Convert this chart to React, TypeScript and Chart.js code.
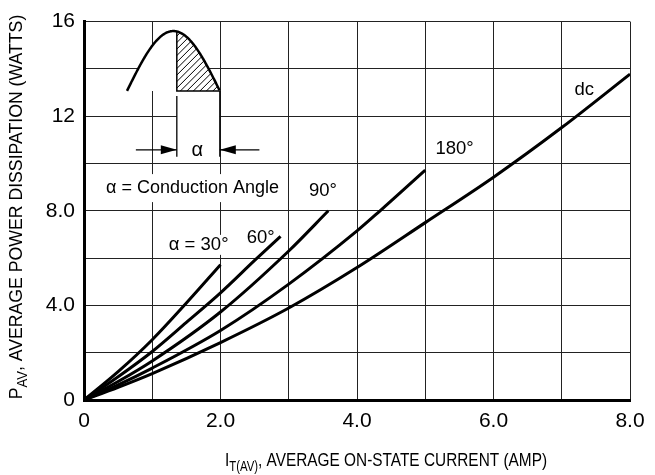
import { useEffect, useRef } from "react";
import { Chart, registerables } from "chart.js";

Chart.register(...registerables);

// ---- axes ----
const xGridValues = [0, 1, 2, 3, 4, 5, 6, 7, 8];
const xTickLabels = ["0", "", "2.0", "", "4.0", "", "6.0", "", "8.0"];
const yGridValues = [0, 2, 4, 6, 8, 10, 12, 14, 16];
const yTickLabels = ["0", "", "4.0", "", "8.0", "", "12", "", "16"];

// ---- curves (I_T(AV) amps, P_AV watts) ----
const x30 = [0, 0.5, 1, 1.5, 2.0];
const y30 = [0, 1.2, 2.55, 4.1, 5.72];
const x60 = [0, 0.5, 1, 1.5, 2, 2.5, 2.88];
const y60 = [0, 0.98, 2.05, 3.28, 4.53, 5.9, 6.92];
const x90 = [0, 0.5, 1, 2, 3, 3.58];
const y90 = [0, 0.78, 1.65, 3.72, 6.3, 8.0];
const x180 = [0, 0.5, 1, 2, 3, 4, 4.33, 5];
const y180 = [0, 0.64, 1.35, 2.94, 4.9, 7.15, 7.98, 9.72];
const xDc = [0, 0.5, 1, 2, 3, 4, 5, 6, 7, 8];
const yDc = [0, 0.54, 1.12, 2.43, 3.89, 5.6, 7.5, 9.42, 11.52, 13.78];

// ---- curve labels ----
const curveLabels = ["α = 30°", "60°", "90°", "180°", "dc"];
const curveLabelX = [1.68, 2.59, 3.5, 5.43, 7.33];
const curveLabelY = [6.56, 6.875, 8.83, 10.63, 13.1];

// ---- inset (conduction-angle sketch), in data units ----
const arcStart = 0.63;
const arcEnd = 1.99;
const arcBase = 13.07;
const arcTop = 15.6;
const hatchStart = 1.36;
const extBottom = 10.29;
const extTop = 12.85;
const arrowY = 10.58;
const arrowLeftFrom = 0.76;
const arrowRightFrom = 2.57;
const alphaX = 1.66;
const alphaY = 10.56;
const noteText = "α = Conduction Angle";
const noteX = 1.59;
const noteY = 8.96;

const xTitleMain = "I";
const xTitleSub = "T(AV)";
const xTitleRest = ", AVERAGE ON-STATE CURRENT (AMP)";
const yTitleMain = "P";
const yTitleSub = "AV";
const yTitleRest = ", AVERAGE POWER DISSIPATION (WATTS)";

const SANS = "'Liberation Sans', Arial, sans-serif";
const NARROW = "'Liberation Sans Narrow', 'Liberation Sans', Arial, sans-serif";

function pts(xs: number[], ys: number[]) {
  return xs.map((x, i) => ({ x, y: ys[i] }));
}

const annotate = {
  id: "annotate",
  beforeDatasetsDraw(chart: any) {
    const ctx = chart.ctx as CanvasRenderingContext2D;
    const xs = chart.scales.x;
    const ys = chart.scales.y;
    const px = (v: number) => xs.getPixelForValue(v);
    const py = (v: number) => ys.getPixelForValue(v);
    ctx.save();

    const x0 = px(arcStart);
    const x1 = px(arcEnd);
    const yb = py(arcBase);
    const yt = py(arcTop);
    const hx = px(hatchStart);
    const arcY = (x: number) => yb - (yb - yt) * Math.sin((Math.PI * (x - x0)) / (x1 - x0));

    // white under arc
    ctx.fillStyle = "#fff";
    ctx.beginPath();
    ctx.moveTo(x0, yb);
    for (let x = x0; x <= x1; x += 0.5) ctx.lineTo(x, arcY(x));
    ctx.lineTo(x1, yb);
    ctx.closePath();
    ctx.fill();
    ctx.fillRect(hx, yb, x1 - hx, py(extBottom) - yb);

    // hatch
    ctx.save();
    ctx.beginPath();
    ctx.moveTo(hx, yb);
    for (let x = hx; x <= x1; x += 0.5) ctx.lineTo(x, arcY(x));
    ctx.lineTo(x1, yb);
    ctx.closePath();
    ctx.clip();
    ctx.strokeStyle = "#000";
    ctx.lineWidth = 1;
    const H = yb - yt + 10;
    for (let k = -H; k < x1 - hx + 10; k += 6.5) {
      ctx.beginPath();
      ctx.moveTo(hx + k, yb + 2);
      ctx.lineTo(hx + k + H, yb + 2 - H);
      ctx.stroke();
    }
    ctx.restore();

    // hatch outline
    ctx.strokeStyle = "#000";
    ctx.lineWidth = 1.5;
    ctx.beginPath();
    ctx.moveTo(hx, arcY(hx));
    ctx.lineTo(hx, yb);
    ctx.lineTo(x1, yb);
    ctx.stroke();

    // arc
    ctx.lineWidth = 2.5;
    ctx.beginPath();
    ctx.moveTo(x0, yb);
    for (let x = x0; x <= x1; x += 0.5) ctx.lineTo(x, arcY(x));
    ctx.stroke();

    // extension lines
    ctx.lineWidth = 1.3;
    ctx.beginPath();
    ctx.moveTo(hx, py(extTop));
    ctx.lineTo(hx, py(extBottom));
    ctx.moveTo(x1, yb);
    ctx.lineTo(x1, py(extBottom));
    ctx.stroke();

    // arrows
    const ay = py(arrowY);
    const arrow = (from: number, tip: number) => {
      const dir = tip > from ? 1 : -1;
      ctx.lineWidth = 1.3;
      ctx.beginPath();
      ctx.moveTo(from, ay);
      ctx.lineTo(tip, ay);
      ctx.stroke();
      ctx.fillStyle = "#000";
      ctx.beginPath();
      ctx.moveTo(tip, ay);
      ctx.lineTo(tip - dir * 16, ay - 4.5);
      ctx.lineTo(tip - dir * 16, ay + 4.5);
      ctx.closePath();
      ctx.fill();
    };
    arrow(px(arrowLeftFrom), hx);
    arrow(px(arrowRightFrom), x1);

    ctx.fillStyle = "#000";
    ctx.textAlign = "center";
    ctx.textBaseline = "middle";
    ctx.font = `20px ${SANS}`;
    ctx.fillText("α", px(alphaX), py(alphaY));

    // note with white box
    ctx.font = `18px ${SANS}`;
    const nw = ctx.measureText(noteText).width;
    const nx = px(noteX);
    const ny = py(noteY);
    ctx.fillStyle = "#fff";
    ctx.fillRect(nx - nw / 2 - 5, ny - 14, nw + 10, 28);
    ctx.fillStyle = "#000";
    ctx.fillText(noteText, nx, ny);

    // curve labels
    ctx.font = `18.5px ${SANS}`;
    curveLabels.forEach((t, i) => {
      const w = ctx.measureText(t).width;
      const lx = px(curveLabelX[i]);
      const ly = py(curveLabelY[i]);
      ctx.fillStyle = "#fff";
      ctx.fillRect(lx - w / 2 - 2, ly - 10, w + 4, 20);
      ctx.fillStyle = "#000";
      ctx.fillText(t, lx, ly);
    });

    ctx.restore();
  },
  afterDraw(chart: any) {
    const ctx = chart.ctx as CanvasRenderingContext2D;
    const area = chart.chartArea;
    ctx.save();
    ctx.fillStyle = "#000";
    ctx.textBaseline = "alphabetic";
    ctx.textAlign = "left";
    const drawComposite = (main: string, sub: string, rest: string) => {
      ctx.font = `19px ${NARROW}`;
      const w1 = ctx.measureText(main).width;
      const w3 = ctx.measureText(rest).width;
      ctx.font = `14px ${NARROW}`;
      const w2 = ctx.measureText(sub).width;
      let x = -(w1 + w2 + w3) / 2;
      ctx.font = `19px ${NARROW}`;
      ctx.fillText(main, x, 0);
      x += w1;
      ctx.font = `14px ${NARROW}`;
      ctx.fillText(sub, x, 5);
      x += w2;
      ctx.font = `19px ${NARROW}`;
      ctx.fillText(rest, x, 0);
    };
    // x title
    ctx.save();
    ctx.translate(386, 466);
    ctx.scale(0.81, 1);
    drawComposite(xTitleMain, xTitleSub, xTitleRest);
    ctx.restore();
    // y title
    ctx.save();
    ctx.translate(22, area.top + (area.bottom - area.top) * 0.49);
    ctx.rotate(-Math.PI / 2);
    ctx.scale(0.93, 1);
    drawComposite(yTitleMain, yTitleSub, yTitleRest);
    ctx.restore();
    ctx.restore();
  },
};

export default function App() {
  const ref = useRef<HTMLCanvasElement | null>(null);
  useEffect(() => {
    if (!ref.current) return;
    const lineDs = (xs: number[], ys: number[]) => ({
      data: pts(xs, ys),
      borderColor: "#000",
      borderWidth: 3,
      pointRadius: 0,
      fill: false,
      cubicInterpolationMode: "monotone" as const,
      borderCapStyle: "butt" as const,
    });
    const chart = new Chart(ref.current, {
      type: "line",
      data: {
        datasets: [
          lineDs(x30, y30),
          lineDs(x60, y60),
          lineDs(x90, y90),
          lineDs(x180, y180),
          lineDs(xDc, yDc),
        ],
      },
      options: {
        animation: false,
        responsive: false,
        devicePixelRatio: 1,
        layout: { padding: { left: 0, top: 16, right: 25, bottom: 0 } },
        plugins: {
          legend: { display: false },
          tooltip: { enabled: false },
          title: { display: false },
        },
        scales: {
          x: {
            type: "linear",
            min: 0,
            max: 8,
            afterBuildTicks: (s: any) => {
              s.ticks = xGridValues.map((v) => ({ value: v }));
            },
            afterFit: (s: any) => {
              s.height = 75;
            },
            ticks: {
              autoSkip: false,
              maxRotation: 0,
              padding: 9,
              color: "#000",
              font: { family: SANS, size: 21 },
              callback: (v: any) => xTickLabels[xGridValues.indexOf(Number(v))] ?? "",
            },
            grid: { color: "#222", lineWidth: 1, drawTicks: false },
            border: { color: "#000", width: 3 },
          },
          y: {
            type: "linear",
            min: 0,
            max: 16,
            afterBuildTicks: (s: any) => {
              s.ticks = yGridValues.map((v) => ({ value: v }));
            },
            afterFit: (s: any) => {
              s.width = 84;
            },
            ticks: {
              autoSkip: false,
              padding: 9,
              color: "#000",
              font: { family: SANS, size: 21 },
              callback: (v: any) => yTickLabels[yGridValues.indexOf(Number(v))] ?? "",
            },
            grid: { color: "#222", lineWidth: 1, drawTicks: false },
            border: { color: "#000", width: 3 },
          },
        },
      },
      plugins: [annotate],
    });
    return () => chart.destroy();
  }, []);
  return (
    <div style={{ position: "absolute", left: 0, top: 0, width: 655, height: 475, background: "#fff" }}>
      <canvas ref={ref} width={655} height={475} style={{ display: "block" }} />
    </div>
  );
}
